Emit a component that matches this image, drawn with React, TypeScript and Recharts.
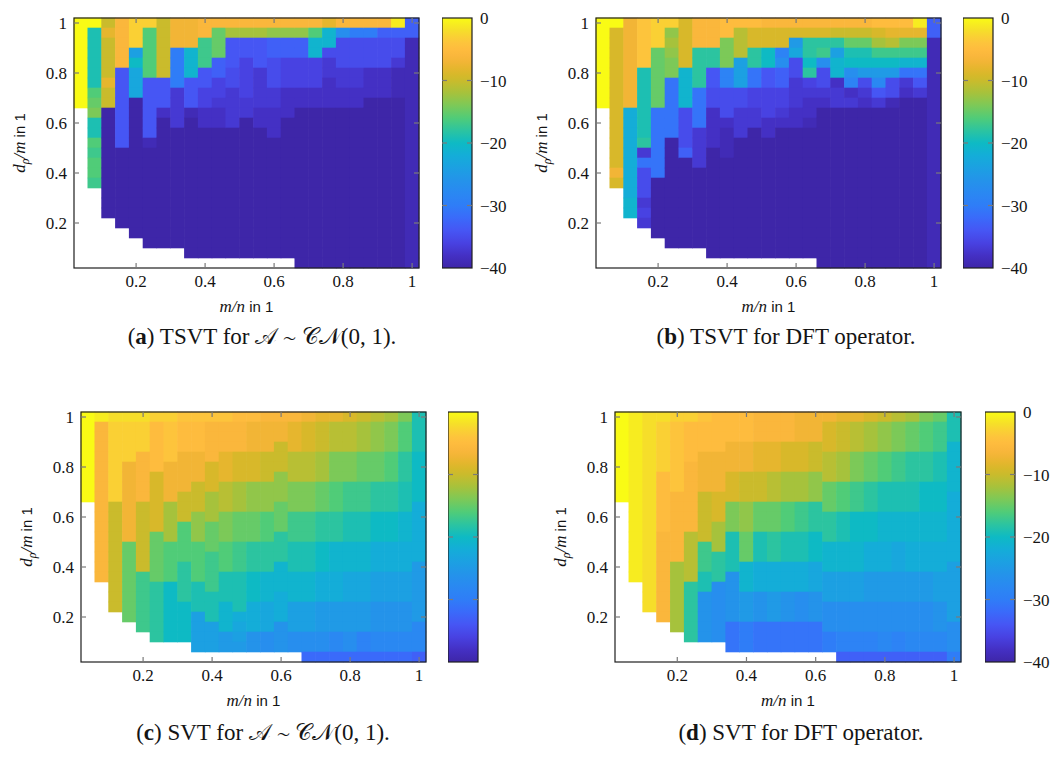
import React from "react";
import { ScatterChart, Scatter, XAxis, YAxis, BarChart, Bar } from "recharts";

// cell centres: m/n along x, d_rho/m along y
const M_OVER_N = [0.04, 0.08, 0.12, 0.16, 0.2, 0.24, 0.28, 0.32, 0.36, 0.4, 0.44, 0.48, 0.52, 0.56, 0.6, 0.64, 0.68, 0.72, 0.76, 0.8, 0.84, 0.88, 0.92, 0.96, 1.0];
const D_OVER_M = [0.04, 0.08, 0.12, 0.16, 0.2, 0.24, 0.28, 0.32, 0.36, 0.4, 0.44, 0.48, 0.52, 0.56, 0.6, 0.64, 0.68, 0.72, 0.76, 0.8, 0.84, 0.88, 0.92, 0.96, 1.0];

const AXIS_LIMITS = [0.02, 1.02];
const X_TICKS = [0.2, 0.4, 0.6, 0.8, 1];
const Y_TICKS = [0.2, 0.4, 0.6, 0.8, 1];
const CB_TICKS = [0, -10, -20, -30, -40];

// error in dB, one list per m/n column, read from d/m = 1 downwards (white cells left out)
const TSVT_GAUSS = [
  [0, 0, 0, 0, 0, 0, 0, 0, 0],
  [0, -19, -19, -19, -19, -19, -19, -16, -15, -14, -19, -19, -16, -17, -16, -16, -17],
  [-10, -8, -10, -10, -10, -10, -8, -10, -10, -40, -40, -40, -40, -40, -40, -40, -40, -40, -40, -40],
  [-6, -6, -6, -6, -6, -34, -34, -34, -34, -34, -34, -34, -34, -40, -40, -40, -40, -40, -40, -40, -40],
  [-3, -3, -3, -24, -20, -23, -23, -23, -40, -40, -40, -40, -40, -40, -40, -40, -40, -40, -40, -40, -40, -40],
  [-3, -16, -16, -16, -16, -16, -34, -34, -34, -34, -34, -34, -39, -40, -40, -40, -40, -40, -40, -40, -40, -40, -40],
  [-10, -10, -10, -10, -10, -10, -34, -34, -34, -38, -40, -40, -40, -40, -40, -40, -40, -40, -40, -40, -40, -40, -40],
  [-7, -7, -7, -30, -30, -30, -30, -37, -37, -37, -37, -40, -40, -40, -40, -40, -40, -40, -40, -40, -40, -40, -40],
  [-7, -7, -7, -21, -21, -21, -34, -34, -34, -39, -40, -40, -40, -40, -40, -40, -40, -40, -40, -40, -40, -40, -40, -40],
  [-6, -6, -17, -17, -17, -34, -34, -36, -36, -38, -38, -40, -40, -40, -40, -40, -40, -40, -40, -40, -40, -40, -40, -40],
  [-6, -15, -15, -15, -33, -33, -36, -36, -37, -38, -38, -40, -40, -40, -40, -40, -40, -40, -40, -40, -40, -40, -40, -40],
  [-6, -12, -34, -34, -34, -35, -35, -37, -37, -37, -37, -40, -40, -40, -40, -40, -40, -40, -40, -40, -40, -40, -40, -40],
  [-6, -12, -34, -34, -36, -36, -36, -36, -37, -37, -40, -40, -40, -40, -40, -40, -40, -40, -40, -40, -40, -40, -40, -40],
  [-6, -12, -34, -34, -34, -37, -37, -37, -37, -38, -38, -40, -40, -40, -40, -40, -40, -40, -40, -40, -40, -40, -40, -40],
  [-6, -13, -33, -33, -35, -35, -35, -37, -37, -38, -38, -38, -40, -40, -40, -40, -40, -40, -40, -40, -40, -40, -40, -40],
  [-6, -13, -33, -33, -36, -36, -36, -38, -38, -38, -40, -40, -40, -40, -40, -40, -40, -40, -40, -40, -40, -40, -40, -40],
  [-6, -13, -33, -33, -36, -36, -36, -38, -38, -40, -40, -40, -40, -40, -40, -40, -40, -40, -40, -40, -40, -40, -40, -40, -40],
  [-6, -16, -21, -21, -36, -36, -36, -38, -38, -40, -40, -40, -40, -40, -40, -40, -40, -40, -40, -40, -40, -40, -40, -40, -40],
  [-8, -21, -21, -35, -37, -37, -38, -38, -38, -40, -40, -40, -40, -40, -40, -40, -40, -40, -40, -40, -40, -40, -40, -40, -40],
  [-6, -27, -35, -35, -35, -37, -37, -38, -38, -40, -40, -40, -40, -40, -40, -40, -40, -40, -40, -40, -40, -40, -40, -40, -40],
  [-6, -30, -35, -35, -35, -37, -37, -38, -38, -40, -40, -40, -40, -40, -40, -40, -40, -40, -40, -40, -40, -40, -40, -40, -40],
  [-6, -30, -35, -35, -35, -38, -38, -38, -40, -40, -40, -40, -40, -40, -40, -40, -40, -40, -40, -40, -40, -40, -40, -40, -40],
  [-6, -33, -35, -35, -35, -38, -38, -38, -40, -40, -40, -40, -40, -40, -40, -40, -40, -40, -40, -40, -40, -40, -40, -40, -40],
  [-1, -33, -35, -35, -37, -39, -39, -39, -40, -40, -40, -40, -40, -40, -40, -40, -40, -40, -40, -40, -40, -40, -40, -40, -40],
  [-33, -33, -39, -39, -39, -39, -39, -39, -39, -39, -39, -39, -39, -39, -39, -39, -39, -39, -39, -39, -39, -39, -39, -39, -39],
];

const TSVT_DFT = [
  [0, 0, 0, 0, 0, 0, 0, 0, 0],
  [0, -9, -9, -9, -9, -9, -9, -9, -9, -9, -9, -9, -9, -9, -9, -7, -9],
  [-7, -7, -7, -7, -7, -7, -7, -7, -7, -22, -22, -22, -22, -22, -22, -22, -22, -22, -21, -21],
  [-4, -4, -4, -4, -4, -19, -19, -19, -19, -19, -19, -19, -18, -37, -31, -35, -35, -35, -37, -36, -37],
  [-3, -3, -3, -15, -15, -15, -15, -15, -15, -31, -31, -31, -31, -31, -31, -31, -40, -40, -40, -40, -40, -40],
  [-3, -13, -12, -13, -14, -14, -31, -31, -31, -31, -31, -31, -40, -40, -40, -40, -40, -40, -40, -40, -40, -40, -40],
  [-9, -9, -9, -9, -9, -21, -21, -21, -21, -35, -35, -35, -35, -33, -40, -40, -40, -40, -40, -40, -40, -40, -40],
  [-6, -6, -6, -18, -18, -18, -18, -31, -31, -31, -31, -37, -37, -37, -37, -40, -40, -40, -40, -40, -40, -40, -40],
  [-6, -6, -6, -18, -18, -34, -34, -35, -35, -38, -38, -38, -38, -40, -40, -40, -40, -40, -40, -40, -40, -40, -40, -40],
  [-5, -5, -14, -14, -14, -29, -29, -35, -35, -35, -38, -39, -39, -39, -40, -40, -40, -40, -40, -40, -40, -40, -40, -40],
  [-5, -11, -11, -11, -24, -24, -24, -35, -35, -37, -37, -37, -40, -40, -40, -40, -40, -40, -40, -40, -40, -40, -40, -40],
  [-5, -9, -9, -18, -18, -31, -31, -36, -36, -37, -37, -40, -40, -40, -40, -40, -40, -40, -40, -40, -40, -40, -40, -40],
  [-6, -9, -9, -20, -20, -34, -34, -36, -36, -36, -38, -38, -40, -40, -40, -40, -40, -40, -40, -40, -40, -40, -40, -40],
  [-6, -9, -9, -29, -27, -33, -33, -36, -36, -37, -38, -40, -40, -40, -40, -40, -40, -40, -40, -40, -40, -40, -40, -40],
  [-6, -9, -25, -23, -35, -35, -37, -37, -37, -38, -38, -40, -40, -40, -40, -40, -40, -40, -40, -40, -40, -40, -40, -40],
  [-6, -9, -18, -18, -20, -18, -36, -37, -38, -38, -39, -40, -40, -40, -40, -40, -40, -40, -40, -40, -40, -40, -40, -40],
  [-6, -9, -18, -17, -27, -35, -35, -37, -38, -40, -40, -40, -40, -40, -40, -40, -40, -40, -40, -40, -40, -40, -40, -40, -40],
  [-6, -10, -18, -24, -21, -21, -38, -37, -37, -40, -40, -40, -40, -40, -40, -40, -40, -40, -40, -40, -40, -40, -40, -40, -40],
  [-6, -10, -15, -19, -20, -27, -29, -38, -37, -40, -40, -40, -40, -40, -40, -40, -40, -40, -40, -40, -40, -40, -40, -40, -40],
  [-6, -10, -15, -19, -20, -25, -35, -37, -38, -40, -40, -40, -40, -40, -40, -40, -40, -40, -40, -40, -40, -40, -40, -40, -40],
  [-5, -9, -12, -17, -20, -25, -28, -34, -37, -40, -40, -40, -40, -40, -40, -40, -40, -40, -40, -40, -40, -40, -40, -40, -40],
  [-5, -8, -11, -17, -20, -25, -35, -35, -39, -40, -40, -40, -40, -40, -40, -40, -40, -40, -40, -40, -40, -40, -40, -40, -40],
  [-5, -8, -14, -17, -21, -31, -37, -38, -40, -40, -40, -40, -40, -40, -40, -40, -40, -40, -40, -40, -40, -40, -40, -40, -40],
  [-1, -8, -14, -17, -21, -31, -34, -37, -40, -40, -40, -40, -40, -40, -40, -40, -40, -40, -40, -40, -40, -40, -40, -40, -40],
  [-33, -33, -39, -39, -39, -39, -39, -39, -39, -39, -39, -39, -39, -39, -39, -39, -39, -39, -39, -39, -39, -39, -39, -39, -39],
];

const SVT_GAUSS = [
  [0, 0, 0, 0, 0, 0, 0, 0, 0],
  [-1, -6, -6, -6, -6, -6, -6, -6, -6, -6, -6, -6, -6, -6, -6, -6, -6],
  [-2, -3, -3, -3, -3, -3, -3, -3, -3, -10, -10, -10, -10, -10, -10, -10, -10, -10, -10, -10],
  [-2, -3, -3, -3, -3, -7, -7, -7, -7, -7, -7, -7, -7, -15, -15, -15, -15, -15, -15, -15, -15],
  [-2, -3, -3, -3, -6, -6, -6, -6, -6, -10, -10, -10, -10, -10, -10, -10, -17, -17, -17, -17, -17, -17],
  [-3, -5, -5, -5, -5, -5, -9, -9, -9, -9, -9, -9, -15, -15, -15, -15, -15, -18, -18, -18, -18, -18, -18],
  [-3, -4, -4, -4, -4, -7, -7, -7, -7, -12, -12, -12, -12, -16, -16, -16, -16, -20, -20, -20, -20, -20, -20],
  [-4, -5, -5, -5, -7, -7, -7, -7, -10, -10, -10, -16, -16, -16, -16, -18, -18, -18, -18, -20, -20, -20, -20],
  [-4, -5, -5, -5, -7, -7, -7, -10, -10, -10, -13, -13, -13, -16, -16, -16, -16, -19, -19, -19, -24, -24, -24, -24],
  [-4, -6, -6, -6, -6, -9, -9, -9, -12, -12, -12, -15, -15, -15, -17, -17, -17, -17, -19, -19, -19, -24, -24, -24],
  [-4, -6, -6, -6, -8, -8, -8, -11, -11, -11, -14, -14, -14, -16, -16, -16, -19, -19, -19, -21, -21, -21, -25, -25],
  [-5, -6, -6, -6, -9, -9, -9, -12, -12, -12, -15, -15, -15, -17, -17, -17, -19, -19, -19, -19, -22, -23, -24, -25],
  [-5, -7, -7, -7, -9, -9, -9, -13, -13, -13, -15, -15, -15, -18, -18, -18, -20, -20, -20, -22, -22, -22, -26, -26],
  [-6, -7, -7, -7, -10, -10, -10, -13, -13, -13, -16, -16, -16, -18, -18, -18, -21, -21, -21, -23, -23, -23, -27, -27],
  [-6, -7, -7, -10, -10, -10, -13, -13, -13, -15, -15, -15, -18, -18, -18, -21, -21, -21, -22, -22, -22, -26, -26, -26],
  [-6, -8, -8, -8, -11, -11, -11, -14, -14, -14, -17, -17, -17, -19, -19, -19, -21, -21, -21, -24, -24, -24, -27, -27],
  [-7, -9, -9, -9, -11, -11, -11, -14, -14, -14, -17, -17, -17, -19, -19, -19, -21, -21, -21, -24, -24, -24, -27, -27, -32],
  [-8, -10, -10, -10, -12, -12, -12, -15, -15, -15, -18, -18, -18, -20, -20, -20, -22, -22, -22, -25, -25, -25, -27, -27, -32],
  [-8, -11, -11, -11, -14, -14, -14, -16, -16, -16, -18, -18, -18, -21, -21, -21, -22, -22, -22, -25, -25, -25, -28, -28, -32],
  [-9, -11, -11, -11, -14, -14, -14, -17, -17, -17, -19, -19, -19, -21, -21, -21, -23, -23, -23, -25, -25, -25, -27, -27, -32],
  [-10, -12, -12, -12, -15, -15, -15, -17, -17, -17, -19, -19, -19, -21, -21, -21, -23, -23, -23, -25, -25, -25, -29, -29, -32],
  [-11, -13, -13, -13, -15, -15, -15, -18, -18, -18, -20, -20, -20, -22, -22, -22, -24, -24, -24, -26, -26, -26, -28, -28, -32],
  [-12, -14, -14, -14, -16, -16, -16, -18, -18, -18, -20, -20, -20, -22, -22, -22, -24, -24, -24, -26, -26, -26, -28, -28, -32],
  [-14, -16, -16, -16, -18, -18, -18, -19, -19, -19, -21, -21, -21, -22, -22, -22, -24, -24, -24, -26, -26, -26, -28, -28, -32],
  [-19, -19, -19, -19, -20, -20, -20, -20, -20, -22, -22, -22, -22, -22, -22, -25, -25, -25, -25, -25, -25, -28, -28, -28, -33],
];

const SVT_DFT = [
  [0, 0, 0, 0, 0, 0, 0, 0, 0],
  [-1, -1, -1, -1, -1, -1, -1, -1, -1, -1, -1, -1, -1, -1, -1, -1, -1],
  [-2, -2, -2, -2, -2, -2, -2, -2, -2, -2, -2, -2, -2, -2, -2, -2, -2, -2, -2, -2],
  [-2, -3, -3, -3, -3, -3, -5, -5, -5, -5, -5, -5, -6, -6, -6, -6, -6, -6, -6, -6, -6],
  [-3, -4, -4, -4, -4, -4, -4, -4, -6, -6, -6, -6, -6, -6, -6, -12, -12, -12, -12, -12, -12, -12],
  [-3, -5, -5, -5, -5, -6, -6, -6, -6, -6, -6, -6, -11, -11, -11, -11, -11, -18, -18, -18, -18, -18, -18],
  [-4, -5, -5, -5, -7, -7, -7, -7, -10, -10, -10, -10, -10, -17, -17, -17, -19, -19, -26, -26, -26, -26, -26],
  [-5, -5, -5, -5, -7, -7, -7, -7, -9, -9, -9, -12, -12, -12, -18, -18, -18, -27, -27, -27, -27, -27, -27],
  [-5, -5, -5, -7, -7, -7, -9, -9, -9, -14, -14, -14, -19, -19, -19, -19, -26, -26, -26, -26, -26, -31, -31, -31],
  [-5, -5, -5, -7, -7, -7, -10, -10, -10, -13, -13, -13, -15, -15, -15, -21, -21, -21, -25, -25, -25, -30, -30, -30],
  [-6, -6, -6, -8, -8, -8, -10, -10, -10, -15, -15, -15, -19, -19, -19, -22, -22, -22, -26, -26, -26, -31, -31, -31],
  [-6, -6, -6, -8, -8, -8, -11, -11, -11, -15, -15, -15, -18, -18, -18, -22, -22, -22, -25, -25, -25, -31, -31, -31],
  [-6, -6, -6, -9, -9, -9, -12, -12, -12, -16, -16, -16, -19, -19, -19, -22, -22, -22, -26, -26, -26, -31, -31, -31],
  [-7, -7, -7, -9, -9, -9, -12, -12, -12, -17, -17, -17, -19, -19, -19, -22, -22, -22, -27, -27, -27, -31, -31, -31],
  [-7, -7, -7, -10, -10, -10, -13, -13, -13, -18, -18, -18, -20, -20, -20, -23, -23, -23, -26, -26, -26, -31, -31, -31],
  [-7, -9, -9, -9, -11, -11, -11, -15, -15, -15, -18, -18, -18, -21, -21, -21, -24, -24, -24, -27, -27, -27, -30, -30],
  [-8, -10, -10, -10, -12, -12, -12, -16, -16, -16, -19, -19, -19, -21, -21, -21, -24, -24, -24, -27, -27, -27, -29, -29, -33],
  [-8, -11, -11, -11, -14, -14, -14, -17, -17, -17, -20, -20, -20, -21, -21, -21, -24, -24, -24, -27, -27, -27, -29, -29, -33],
  [-9, -12, -12, -12, -15, -15, -15, -18, -18, -18, -20, -20, -20, -22, -22, -22, -25, -25, -25, -27, -27, -27, -29, -29, -33],
  [-10, -13, -13, -13, -16, -16, -16, -19, -19, -19, -21, -21, -21, -22, -22, -22, -25, -25, -25, -27, -27, -27, -28, -28, -33],
  [-11, -14, -14, -14, -17, -17, -17, -19, -19, -19, -21, -21, -21, -23, -23, -23, -25, -25, -25, -27, -27, -27, -29, -29, -33],
  [-12, -15, -15, -15, -18, -18, -18, -19, -19, -19, -21, -21, -21, -22, -22, -22, -25, -25, -25, -27, -27, -27, -28, -28, -33],
  [-14, -16, -16, -16, -18, -18, -18, -20, -20, -20, -21, -21, -21, -22, -22, -22, -25, -25, -25, -27, -27, -27, -28, -28, -33],
  [-15, -17, -17, -17, -19, -19, -19, -20, -20, -20, -21, -21, -21, -22, -22, -22, -24, -24, -24, -26, -26, -26, -28, -28, -33],
  [-19, -19, -19, -21, -21, -21, -21, -21, -22, -22, -22, -22, -22, -22, -22, -24, -24, -24, -24, -24, -24, -27, -27, -27, -30],
];

// parula colormap sampled along the colorbar: [dB, r, g, b]
const PARULA = [
  [0, 249, 251, 21], [-1, 247, 236, 32], [-2, 246, 222, 42], [-3, 250, 208, 52],
  [-4, 253, 196, 60], [-5, 254, 188, 62], [-6, 250, 183, 60], [-7, 242, 181, 54],
  [-8, 230, 182, 46], [-9, 216, 184, 42], [-10, 202, 187, 44], [-12, 166, 194, 60],
  [-14, 124, 201, 88], [-16, 80, 204, 120], [-18, 44, 196, 160], [-20, 14, 186, 196],
  [-22, 20, 173, 216], [-24, 28, 160, 226], [-26, 36, 147, 234], [-28, 42, 136, 242],
  [-30, 47, 125, 247], [-32, 58, 106, 250], [-34, 70, 86, 244], [-36, 72, 66, 226],
  [-38, 68, 48, 196], [-40, 62, 38, 168],
];

function parula(v: number) {
  const c = Math.max(-40, Math.min(0, v));
  for (let i = 0; i < PARULA.length - 1; i++) {
    const a = PARULA[i];
    const b = PARULA[i + 1];
    if (c <= a[0] && c >= b[0]) {
      const t = (a[0] - c) / (a[0] - b[0]);
      const ch = (k: number) => Math.round(a[k] + (b[k] - a[k]) * t);
      return `rgb(${ch(1)},${ch(2)},${ch(3)})`;
    }
  }
  return "rgb(62,38,168)";
}

function toCells(cols: number[][]) {
  const out: { x: number; y: number; v: number }[] = [];
  cols.forEach((col, k) => {
    col.forEach((v, i) => {
      out.push({ x: M_OVER_N[k], y: D_OVER_M[D_OVER_M.length - 1 - i], v });
    });
  });
  return out;
}

const [LO, HI] = AXIS_LIMITS;
// tick marks sit on the four edges of the box and point inwards
const TICK_MARKS = [
  ...X_TICKS.map((x) => ({ x, y: LO, dir: "up" })),
  ...X_TICKS.map((x) => ({ x, y: HI, dir: "down" })),
  ...Y_TICKS.map((y) => ({ x: LO, y, dir: "right" })),
  ...Y_TICKS.map((y) => ({ x: HI, y, dir: "left" })),
];
const BOX_CORNER = [{ x: LO, y: HI }];

const PLOT_H = 250;
const AX_W = 70;
const AX_H = 60;
const PAD = 10;
const CB_W = 30;
const CB_LBL = 64;
const TICK_LEN = 5;

const serif = "'Liberation Serif', 'Times New Roman', serif";
const sans = "'Liberation Sans', Arial, sans-serif";
const TICK_GRAY = "#7a7a7a";
const FRAME = "#1e1e1e";
const INK = "#141414";

function Heatmap({ left, top, width, cols }: { left: number; top: number; width: number; cols: number[][] }) {
  const cw = width / M_OVER_N.length;
  const ch = PLOT_H / D_OVER_M.length;
  const cells = toCells(cols);

  const cellShape = (p: any) => (
    <rect
      x={p.cx - cw / 2 - 0.3}
      y={p.cy - ch / 2 - 0.3}
      width={cw + 0.6}
      height={ch + 0.6}
      fill={parula(p.payload.v)}
    />
  );

  const tickShape = (p: any) => {
    const d = p.payload.dir;
    const dx = d === "right" ? TICK_LEN : d === "left" ? -TICK_LEN : 0;
    const dy = d === "up" ? -TICK_LEN : d === "down" ? TICK_LEN : 0;
    return <line x1={p.cx} y1={p.cy} x2={p.cx + dx} y2={p.cy + dy} stroke={TICK_GRAY} strokeWidth={1.2} />;
  };

  const boxShape = (p: any) => (
    <rect x={p.cx} y={p.cy} width={width} height={PLOT_H} fill="none" stroke={FRAME} strokeWidth={1.2} />
  );

  const xTick = (p: any) => (
    <text x={p.x} y={p.y + 19} textAnchor="middle" fontFamily={serif} fontSize={17} fill={INK}>
      {String(p.payload.value)}
    </text>
  );

  const yTick = (p: any) => (
    <text x={p.x - 7} y={p.y + 6} textAnchor="end" fontFamily={serif} fontSize={17} fill={INK}>
      {String(p.payload.value)}
    </text>
  );

  const xTitle = (p: any) => {
    const vb = p && p.viewBox ? p.viewBox : { x: AX_W, y: PAD + PLOT_H, width, height: AX_H };
    return (
      <text x={vb.x + vb.width / 2} y={vb.y + 44} textAnchor="middle" fill={INK}>
        <tspan fontFamily={serif} fontStyle="italic" fontSize={17}>m/n</tspan>
        <tspan fontFamily={sans} fontSize={15}> in 1</tspan>
      </text>
    );
  };

  const yTitle = (p: any) => {
    const vb = p && p.viewBox ? p.viewBox : { x: 0, y: PAD, width: AX_W, height: PLOT_H };
    const cx = vb.x + vb.width - 49;
    const cy = vb.y + vb.height / 2;
    return (
      <text transform={`translate(${cx},${cy}) rotate(-90)`} textAnchor="middle" fill={INK}>
        <tspan fontFamily={serif} fontStyle="italic" fontSize={17}>d</tspan>
        <tspan fontFamily={serif} fontStyle="italic" fontSize={12} dy={4}>ρ</tspan>
        <tspan fontFamily={serif} fontStyle="italic" fontSize={17} dy={-4}>/m</tspan>
        <tspan fontFamily={sans} fontSize={15}> in 1</tspan>
      </text>
    );
  };

  return (
    <div style={{ position: "absolute", left: left - AX_W, top: top - PAD }}>
      <ScatterChart
        width={AX_W + width + PAD}
        height={PAD + PLOT_H + AX_H}
        margin={{ top: PAD, right: PAD, bottom: 0, left: 0 }}
      >
        <XAxis
          type="number"
          dataKey="x"
          domain={AXIS_LIMITS}
          ticks={X_TICKS}
          interval={0}
          height={AX_H}
          tickSize={0}
          tickMargin={0}
          tickLine={false}
          axisLine={false}
          tick={xTick}
          label={xTitle}
        />
        <YAxis
          type="number"
          dataKey="y"
          domain={AXIS_LIMITS}
          ticks={Y_TICKS}
          interval={0}
          width={AX_W}
          tickSize={0}
          tickMargin={0}
          tickLine={false}
          axisLine={false}
          tick={yTick}
          label={yTitle}
        />
        <Scatter data={cells} shape={cellShape} isAnimationActive={false} />
        <Scatter data={BOX_CORNER} shape={boxShape} isAnimationActive={false} />
        <Scatter data={TICK_MARKS} shape={tickShape} isAnimationActive={false} />
      </ScatterChart>
    </div>
  );
}

function ColorBar({ left, top, id, showLabels }: { left: number; top: number; id: string; showLabels: boolean }) {
  const data = [{ name: "dB", range: [-40, 0] }];
  const inner = CB_TICKS.filter((v) => v !== 0 && v !== -40);

  const barShape = (p: any) => (
    <g>
      <rect x={p.x} y={p.y} width={p.width} height={p.height} fill={`url(#${id})`} stroke={FRAME} strokeWidth={1.2} />
      {inner.map((v) => {
        const ty = p.y + (p.height * -v) / 40;
        return (
          <g key={v}>
            <line x1={p.x} x2={p.x + TICK_LEN} y1={ty} y2={ty} stroke={TICK_GRAY} strokeWidth={1.2} />
            <line x1={p.x + p.width - TICK_LEN} x2={p.x + p.width} y1={ty} y2={ty} stroke={TICK_GRAY} strokeWidth={1.2} />
          </g>
        );
      })}
    </g>
  );

  const cbTick = (p: any) => {
    const v = p.payload.value as number;
    if (!showLabels) return <g />;
    return (
      <text x={p.x + 8} y={p.y + 6} textAnchor="start" fontFamily={serif} fontSize={17} fill={INK}>
        {v < 0 ? `\u2212${Math.abs(v)}` : String(v)}
      </text>
    );
  };

  return (
    <div style={{ position: "absolute", left, top: top - PAD }}>
      <BarChart
        width={CB_W + CB_LBL}
        height={PLOT_H + 2 * PAD}
        data={data}
        margin={{ top: PAD, right: 0, bottom: PAD, left: 0 }}
        barCategoryGap={0}
      >
        <defs>
          <linearGradient id={id} x1="0" y1="0" x2="0" y2="1">
            {PARULA.map((s) => (
              <stop key={s[0]} offset={`${(-s[0] / 40) * 100}%`} stopColor={`rgb(${s[1]},${s[2]},${s[3]})`} />
            ))}
          </linearGradient>
        </defs>
        <XAxis dataKey="name" hide />
        <YAxis
          type="number"
          orientation="right"
          domain={[-40, 0]}
          ticks={CB_TICKS}
          interval={0}
          width={CB_LBL}
          tickSize={0}
          tickMargin={0}
          tickLine={false}
          axisLine={false}
          tick={cbTick}
        />
        <Bar dataKey="range" shape={barShape} isAnimationActive={false} />
      </BarChart>
    </div>
  );
}

function Caption({ cx, baseline, tag, children }: { cx: number; baseline: number; tag: string; children: React.ReactNode }) {
  return (
    <div
      style={{
        position: "absolute",
        left: cx,
        top: baseline - 19,
        transform: "translateX(-50%)",
        whiteSpace: "nowrap",
        fontFamily: serif,
        fontSize: 23,
        lineHeight: "23px",
        color: INK,
      }}
    >
      (<b>{tag}</b>) {children}
    </div>
  );
}

const gaussText = (
  <>
    {"\u{1D49C}"} ∼ {"\u{1D49E}\u{1D4A9}"}(0, 1).
  </>
);

export default function App() {
  return (
    <div
      style={{
        position: "absolute",
        left: 0,
        top: 0,
        width: 1054,
        height: 758,
        overflow: "hidden",
        background: "#fff",
      }}
    >
      <Heatmap left={74} top={18} width={345} cols={TSVT_GAUSS} />
      <ColorBar left={442} top={18} id="cbA" showLabels />
      <Heatmap left={596} top={18} width={345} cols={TSVT_DFT} />
      <ColorBar left={963} top={18} id="cbB" showLabels />
      <Heatmap left={81} top={412} width={345} cols={SVT_GAUSS} />
      <ColorBar left={448} top={412} id="cbC" showLabels={false} />
      <Heatmap left={615} top={412} width={346} cols={SVT_DFT} />
      <ColorBar left={985} top={412} id="cbD" showLabels />

      <Caption cx={262} baseline={344} tag="a">TSVT for {gaussText}</Caption>
      <Caption cx={786} baseline={344} tag="b">TSVT for DFT operator.</Caption>
      <Caption cx={263} baseline={740} tag="c">SVT for {gaussText}</Caption>
      <Caption cx={801} baseline={740} tag="d">SVT for DFT operator.</Caption>
    </div>
  );
}
